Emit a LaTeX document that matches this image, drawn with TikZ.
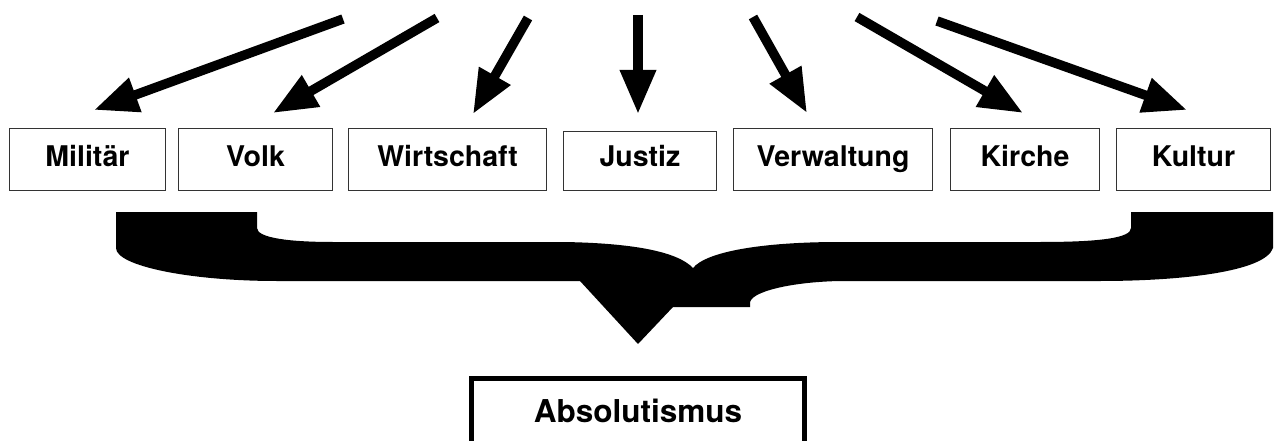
\documentclass[tikz,border=0pt]{standalone}
\usepackage{fontspec}
\setmainfont{TeX Gyre Heros}
\usetikzlibrary{arrows.meta}
\tikzset{
  lbl/.style={draw=black!80, line width=1.2pt, inner sep=0pt, minimum height=62pt,
    font=\fontsize{28.5}{32}\selectfont\bfseries, text height=20pt, text depth=5pt},
  arr/.style={line width=9.5pt, -{Triangle[length=44pt,width=34pt]}},
  brace/.style={fill=black, draw=none},
  mainbox/.style={draw=black, line width=5pt, inner sep=0pt, minimum width=333pt,
    minimum height=69pt, font=\fontsize{31.5}{36}\selectfont\bfseries,
    text height=18pt, text depth=0pt}
}
\begin{document}
\begin{tikzpicture}[x=1pt,y=-1pt]
\useasboundingbox (0,0) rectangle (1274,441);
\clip (0,0) rectangle (1274,441);
\fill[white] (0,0) rectangle (1274,441);
% boxes
\node[lbl, minimum width=156pt] (mil) at (87.5,159.5) {Militär};
\node[lbl, minimum width=154pt] (volk) at (255.5,159.5) {Volk};
\node[lbl, minimum width=198pt] (wirt) at (447.5,159.5) {Wirtschaft};
\node[lbl, minimum width=153pt, minimum height=59pt, text depth=8pt] (just) at (640,161) {Justiz};
\node[lbl, minimum width=199pt] (verw) at (833,159.5) {Verwaltung};
\node[lbl, minimum width=149pt] (kirc) at (1025,159.5) {Kirche};
\node[lbl, minimum width=154pt] (kult) at (1193.5,159.5) {Kultur};
% arrow coordinates
\coordinate (s1) at (343,19);  \coordinate (t1) at (94,110);
\coordinate (s2) at (437,18);  \coordinate (t2) at (273,113);
\coordinate (s3) at (528,18);  \coordinate (t3) at (473,114);
\coordinate (s4) at (638,15);  \coordinate (t4) at (638,114);
\coordinate (s5) at (753,17);  \coordinate (t5) at (807,113);
\coordinate (s6) at (857,17);  \coordinate (t6) at (1023,113);
\coordinate (s7) at (937,21);  \coordinate (t7) at (1187,110);
\foreach \i in {1,...,7} { \draw[arr] (s\i) -- (t\i); }
% brace
\fill[brace] (116,212) -- (257,212) -- (257,228)
  .. controls (257,238) and (290,242) .. (333,242)
  -- (563,242)
  .. controls (630,243) and (677,251) .. (693,268)
  .. controls (706,252) and (760,242) .. (840,242)
  -- (1040,242)
  .. controls (1100,242) and (1131,238) .. (1131,228)
  -- (1131,212) -- (1273,212) -- (1273,248)
  .. controls (1265,272) and (1180,281) .. (1100,281)
  -- (840,281)
  .. controls (790,282) and (750,292) .. (750,303)
  -- (750,307) -- (673,307) -- (638,344) -- (580,281)
  -- (277,281)
  .. controls (190,281) and (116,266) .. (116,248)
  -- cycle;
% main box
\node[mainbox] (abs) at (638,413) {Absolutismus};
\end{tikzpicture}
\end{document}
